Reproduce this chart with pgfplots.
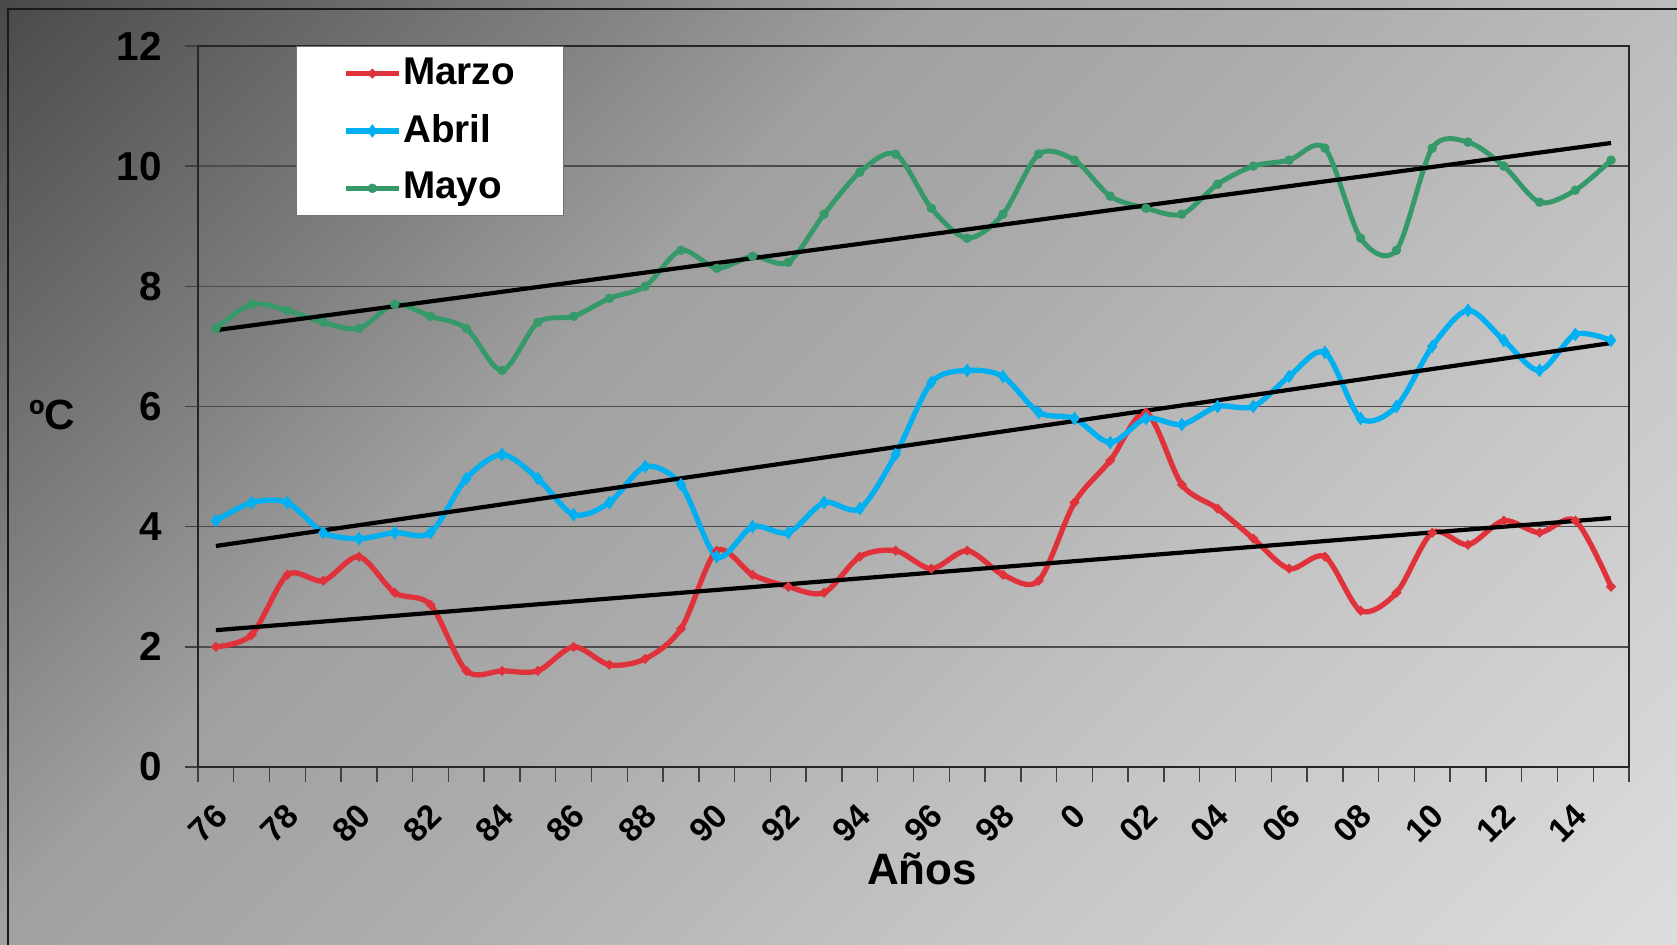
\documentclass[border=0pt]{standalone}
\usepackage{pgfplots}
\usepackage{pgfplotstable}
\pgfplotsset{compat=1.18}
\usepackage{fontspec}
\setmainfont{Liberation Sans}
\definecolor{cMarzo}{HTML}{E0323A}
\definecolor{cAbril}{HTML}{00B0F0}
\definecolor{cMayo}{HTML}{35996A}
\definecolor{mAbril}{HTML}{A9C4A0}
\definecolor{mMayo}{HTML}{10B040}
\definecolor{g0}{HTML}{DDDDDD}
\definecolor{g1}{HTML}{C3C3C3}
\definecolor{g2}{HTML}{ACACAC}
\definecolor{g3}{HTML}{A0A0A0}
\definecolor{g4}{HTML}{7A7A7A}
\definecolor{g5}{HTML}{4A4A4A}
\pgfdeclareverticalshading{bgshade}{100bp}{color(0bp)=(g0); color(25bp)=(g0); color(40bp)=(g1); color(50bp)=(g2); color(57.5bp)=(g3); color(65bp)=(g4); color(75bp)=(g5); color(100bp)=(g5)}
\pgfplotstableread{
i m a y
0 2.0 4.1 7.3
1 2.2 4.4 7.7
2 3.2 4.4 7.6
3 3.1 3.9 7.4
4 3.5 3.8 7.3
5 2.9 3.9 7.7
6 2.7 3.9 7.5
7 1.6 4.8 7.3
8 1.6 5.2 6.6
9 1.6 4.8 7.4
10 2.0 4.2 7.5
11 1.7 4.4 7.8
12 1.8 5.0 8.0
13 2.3 4.7 8.6
14 3.6 3.5 8.3
15 3.2 4.0 8.5
16 3.0 3.9 8.4
17 2.9 4.4 9.2
18 3.5 4.3 9.9
19 3.6 5.2 10.2
20 3.3 6.4 9.3
21 3.6 6.6 8.8
22 3.2 6.5 9.2
23 3.1 5.9 10.2
24 4.4 5.8 10.1
25 5.1 5.4 9.5
26 5.9 5.8 9.3
27 4.7 5.7 9.2
28 4.3 6.0 9.7
29 3.8 6.0 10.0
30 3.3 6.5 10.1
31 3.5 6.9 10.3
32 2.6 5.8 8.8
33 2.9 6.0 8.6
34 3.9 7.0 10.3
35 3.7 7.6 10.4
36 4.1 7.1 10.0
37 3.9 6.6 9.4
38 4.1 7.2 9.6
39 3.0 7.1 10.1
}\datatable
\begin{document}
\begin{tikzpicture}
\useasboundingbox (0,0) rectangle (16.77,9.45);
\begin{scope}
\clip (0,0) rectangle (16.77,9.45);
\shade[shading=bgshade, shading angle=45] (8.385-9.27,4.725-9.27) rectangle (8.385+9.27,4.725+9.27);
\end{scope}
\draw[black!90, line width=0.8pt] (0.08,-0.1) -- (0.08,9.36) -- (16.9,9.36);
\begin{axis}[
  at={(1.98cm,1.78cm)}, anchor=south west,
  scale only axis, width=14.31cm, height=7.21cm,
  xmin=-0.5, xmax=39.5, ymin=0, ymax=12,
  ytick={0,2,...,12},
  xtick={0,2,...,38},
  xticklabels={76,78,80,82,84,86,88,90,92,94,96,98,0,02,04,06,08,10,12,14},
  minor xtick={-0.5,0.5,...,39.5},
  every major x tick/.append style={draw=none},
  tick align=outside, xtick pos=bottom, ytick pos=left,
  major tick length=0.13cm, minor tick length=0.15cm,
  tick style={black!75, line width=0.4pt},
  ymajorgrids, grid style={black!70, line width=0.45pt},
  axis line style={black!85, line width=0.5pt},
  /pgf/number format/assume math mode=true,
  yticklabel style={font=\bfseries\fontsize{11.5}{13}\selectfont, xshift=-0.11cm},
  xticklabel style={font=\bfseries\fontsize{9.5}{11}\selectfont, inner sep=0pt, rotate=45, anchor=east, yshift=-0.25cm, xshift=-0.17cm},
  xlabel={Años}, ylabel={ºC},
  xlabel style={font=\bfseries\fontsize{12.5}{14}\selectfont, at={(axis description cs:0.506,-0.142)}, anchor=center},
  ylabel style={font=\bfseries\fontsize{12}{14}\selectfont, rotate=-90, at={(axis description cs:-0.102,0.488)}, anchor=center},
  legend style={at={(axis description cs:0.0685,1.0)}, anchor=north west, draw=black!55, fill=white,
    font=\bfseries\fontsize{11}{13}\selectfont, inner xsep=0.465cm, inner ysep=0.04cm, row sep=0.107cm,
    nodes={inner xsep=0.5pt, inner ysep=2pt}},
  legend cell align=left,
  legend image code/.code={\draw[mark repeat=2,mark phase=2,#1] plot coordinates {(0cm,0cm) (0.265cm,0cm) (0.53cm,0cm)};},
]
\addplot[cMarzo, line width=1.5pt, smooth, tension=0.5, mark=*, mark size=0.4pt, mark options={solid, fill=cMarzo!85!black, draw=none}] table[x=i, y=m] {\datatable};
\addlegendentry{Marzo}
\addplot[cAbril, line width=1.5pt, smooth, tension=0.5, mark=diamond*, mark size=0.7pt, mark options={solid, fill=mAbril, draw=none}] table[x=i, y=a] {\datatable};
\addlegendentry{Abril}
\addplot[cMayo, line width=1.4pt, smooth, tension=0.5, mark=*, mark size=0.6pt, mark options={solid, fill=mMayo, draw=none}] table[x=i, y=y] {\datatable};
\addlegendentry{Mayo}
\addplot[black, line width=1.2pt, forget plot] table[x=i, y={create col/linear regression={y=m}}] {\datatable};
\addplot[black, line width=1.2pt, forget plot] table[x=i, y={create col/linear regression={y=a}}] {\datatable};
\addplot[black, line width=1.2pt, forget plot] table[x=i, y={create col/linear regression={y=y}}] {\datatable};
\end{axis}
\end{tikzpicture}
\end{document}
